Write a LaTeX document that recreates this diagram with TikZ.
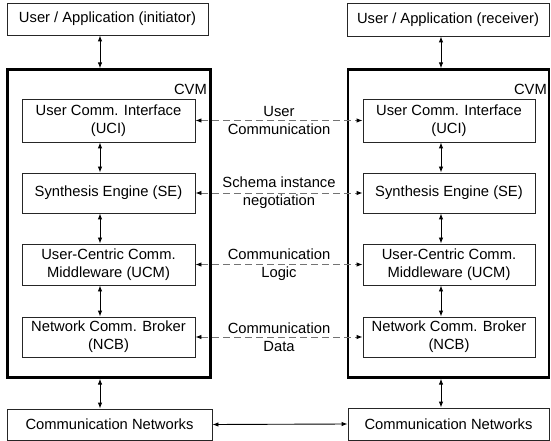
\documentclass[tikz,border=0pt]{standalone}
\usepackage{fontspec}
\setmainfont{Liberation Sans}
\usetikzlibrary{arrows.meta}

\tikzset{
  txt/.style={font=\fontsize{14.8}{18}\selectfont, align=center},
  box/.style={txt, draw=black!85, line width=0.9bp, inner sep=0pt, rectangle},
  cvmbox/.style={draw=black, line width=2.3bp, inner sep=0pt, rectangle},
  arr/.style={line width=0.9bp, {Latex[length=6bp,width=4.5bp]}-{Latex[length=6bp,width=4.5bp]}},
  dasharr/.style={draw=black!55, line width=0.9bp, dash pattern=on 7bp off 4bp,
    {Latex[length=6bp,width=4.5bp,color=black]}-{Latex[length=6bp,width=4.5bp,color=black]}},
  lab/.style={txt, inner sep=0pt}
}

\begin{document}
\begin{tikzpicture}[x=1bp, y=-1bp]
\useasboundingbox (0,0) rectangle (551,441);

% ---- initiator side ----
\node[box, minimum width=201bp, minimum height=32bp] (topL) at (107.5,19) {User / Application (initiator)};
\node[cvmbox, minimum width=203bp, minimum height=308bp] (cvmL) at (109,223.5) {};
\node[txt, anchor=east, inner sep=0pt] (cvmLlab) at (207,89) {CVM};
\node[box, minimum width=173bp, minimum height=43bp] (uciL) at (108.5,120.5) {User Comm. Interface\\(UCI)};
\node[box, minimum width=173bp, minimum height=40bp] (seL)  at (108.5,193) {Synthesis Engine (SE)};
\node[box, minimum width=173bp, minimum height=41bp] (ucmL) at (108.5,264.5) {User-Centric Comm.\\Middleware (UCM)};
\node[box, minimum width=173bp, minimum height=40bp] (ncbL) at (108.5,337) {Network Comm. Broker\\(NCB)};
\node[box, minimum width=205bp, minimum height=31bp] (netL) at (109.5,424.5) {Communication Networks};

% ---- receiver side ----
\node[box, minimum width=202bp, minimum height=33bp] (topR) at (448,19.5) {User / Application (receiver)};
\node[cvmbox, minimum width=201bp, minimum height=308bp] (cvmR) at (448.5,223.5) {};
\node[txt, anchor=east, inner sep=0pt] (cvmRlab) at (547,89) {CVM};
\node[box, minimum width=172bp, minimum height=43bp] (uciR) at (449,120.5) {User Comm. Interface\\(UCI)};
\node[box, minimum width=172bp, minimum height=40bp] (seR)  at (449,193) {Synthesis Engine (SE)};
\node[box, minimum width=172bp, minimum height=41bp] (ucmR) at (449,264.5) {User-Centric Comm.\\Middleware (UCM)};
\node[box, minimum width=172bp, minimum height=40bp] (ncbR) at (449,337) {Network Comm. Broker\\(NCB)};
\node[box, minimum width=201bp, minimum height=32bp] (netR) at (448.5,424) {Communication Networks};

% vertical axes of the stack arrows
\coordinate (axL) at (100,0);
\coordinate (axR) at (441,0);

% ---- vertical links ----
\foreach \a/\b in {topL/cvmL, uciL/seL, seL/ucmL, ucmL/ncbL, cvmL/netL}
  \draw[arr] (\a.south -| axL) -- (\b.north -| axL);
\foreach \a/\b in {topR/cvmR, uciR/seR, seR/ucmR, ucmR/ncbR, cvmR/netR}
  \draw[arr] (\a.south -| axR) -- (\b.north -| axR);

% ---- peer-to-peer links ----
\draw[dasharr] (uciL.east) -- (uciR.west) node[lab, midway] (l1) {User\\Communication};
\draw[dasharr] (seL.east) -- (seR.west) node[lab, midway] (l2) {Schema instance\\negotiation};
\draw[dasharr] (ucmL.east) -- (ucmR.west) node[lab, midway] (l3) {Communication\\Logic};
\draw[dasharr] (ncbL.east) -- (ncbR.west) node[lab, midway] (l4) {Communication\\Data};

\draw[arr] (netL.east) -- (netR.west);
\end{tikzpicture}
\end{document}
